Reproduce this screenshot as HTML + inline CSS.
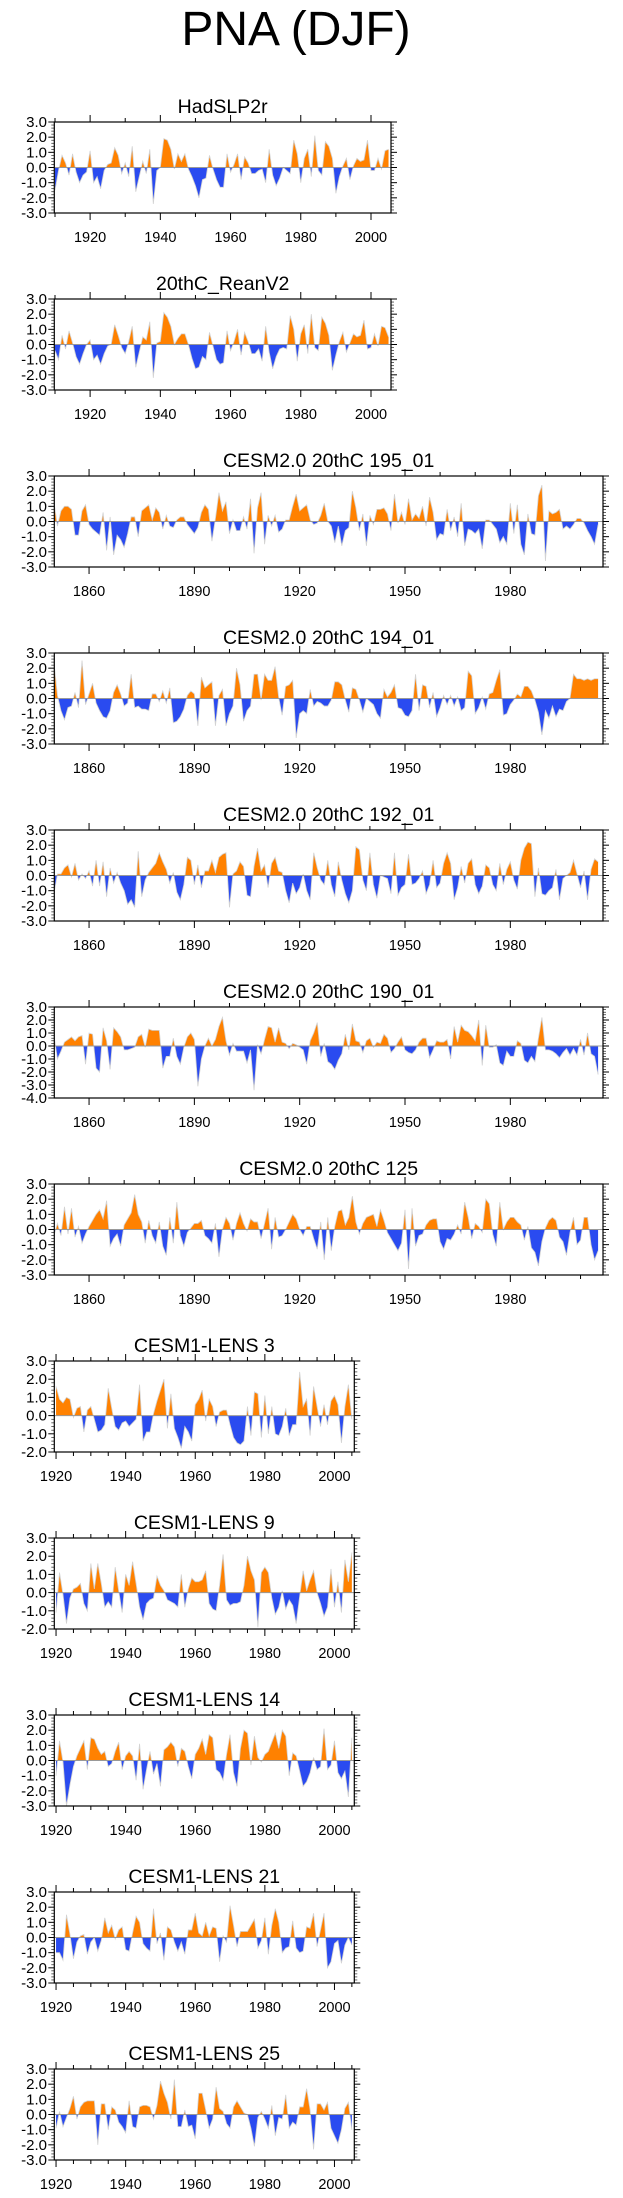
<!DOCTYPE html>
<html><head><meta charset="utf-8"><title>PNA (DJF)</title>
<style>
html,body{margin:0;padding:0;background:#fff;}
svg{display:block;font-family:"Liberation Sans",Arial,sans-serif;}
</style></head>
<body>
<svg id="chart" width="623" height="2198" viewBox="0 0 623 2198" xmlns="http://www.w3.org/2000/svg">
<text x="296" y="45" font-size="48" text-anchor="middle" fill="#000">PNA (DJF)</text>
</svg>
<script>
const hadslp2r=[-1.5,-0.2,0.8,0.3,-0.5,0.9,-0.3,-1.0,-0.5,-0.3,1.1,-1.0,-0.6,-1.4,-0.2,0.2,0.3,1.3,0.8,-0.4,0.3,-0.6,1.4,-1.6,-0.6,0.4,-0.4,1.2,-2.4,-0.2,0.0,1.9,1.8,1.2,-0.1,0.9,0.4,0.9,-0.1,-0.6,-1.2,-2.0,-0.8,-0.7,0.8,-0.1,-0.8,-1.3,-1.3,0.9,-0.3,0.2,0.9,-0.8,0.7,0.3,-0.4,-0.4,-0.2,-0.1,-1.0,1.2,-0.5,-1.2,-0.7,0.0,-0.2,-0.4,1.8,0.9,-1.0,0.6,1.2,-0.6,2.1,-0.2,-0.5,1.7,1.4,0.6,-1.7,-0.6,0.1,0.6,-0.8,0.1,0.6,0.4,0.5,1.8,-0.2,-0.2,0.6,-0.1,1.1,1.2];
const reanV2=[-0.4,-1.0,0.6,-0.3,0.9,0.1,-0.8,-1.3,-0.6,0.0,0.3,-1.0,-0.7,-1.3,-0.6,-0.1,0.0,1.3,0.6,-0.2,-0.6,0.2,1.2,-1.5,-0.5,0.5,0.3,1.5,-2.2,0.1,0.2,2.1,1.8,1.2,0.0,0.4,0.7,0.7,0.0,-0.9,-1.6,-1.5,-0.8,-1.0,0.8,-0.1,-1.0,-1.3,-1.2,0.9,-0.4,0.2,1.0,-0.7,0.8,0.2,-0.6,-0.6,-0.3,-1.1,1.2,-0.5,-1.6,-0.8,-0.3,-0.2,-0.3,1.9,1.0,-1.1,0.7,1.3,-0.6,2.0,-0.2,-0.4,1.8,1.4,0.6,-1.7,-0.7,0.2,0.8,-0.5,0.1,0.7,0.5,0.6,1.6,-0.3,-0.2,0.7,-0.1,1.2,1.1,0.5];
const c195=[1.3,-0.3,0.7,1.0,1.0,0.8,-0.9,-0.9,0.7,1.1,-0.2,-0.5,-0.7,-0.9,0.6,-1.9,0.3,-2.2,-0.9,-1.2,-1.7,-0.8,0.3,0.3,-1.0,0.7,0.9,1.1,0.1,0.9,0.6,-0.5,0.4,-0.3,-0.4,0.1,0.3,0.3,-0.2,-0.5,-0.8,-0.4,0.6,1.1,0.8,-1.3,0.2,1.9,0.7,1.3,-0.8,0.1,-0.6,-0.6,0.3,-0.5,1.5,-2.1,0.9,1.9,-1.5,0.4,-0.3,0.4,-0.7,-0.5,0.1,0.1,1.0,1.8,0.7,0.9,1.1,0.1,-0.2,-0.1,0.4,1.2,0.0,-0.3,-1.4,-0.3,-1.6,-0.6,-0.4,2.0,0.9,-0.6,0.5,-1.6,0.4,-0.2,0.8,0.8,0.9,0.5,-0.6,1.8,-0.1,0.6,-0.2,1.5,0.1,0.5,0.2,1.0,-0.3,1.6,0.6,-1.2,-0.8,-0.9,0.8,-0.6,0.3,-1.0,1.2,-1.6,-0.5,-0.6,-0.8,-0.5,-1.8,0.1,0.1,-0.2,-0.5,-1.4,-1.0,-1.5,1.2,-0.8,1.1,-1.5,-2.2,0.5,-0.8,-0.9,1.7,2.4,-2.6,0.7,0.5,0.6,0.8,-0.5,-0.3,-0.5,-0.2,0.2,0.2,-0.1,-0.6,-1.0,-1.5,-0.2];
const c194=[2.4,0.2,-0.8,-1.4,-0.6,-0.5,0.4,-0.6,2.5,-0.4,0.3,1.0,-0.3,-0.8,-1.2,-1.3,-0.8,0.4,0.9,0.3,-0.5,-0.3,1.6,-0.6,-0.5,-0.7,-0.7,-0.8,0.3,0.3,-0.2,0.5,-0.3,0.7,-1.6,-1.5,-1.2,-0.7,0.2,0.5,0.3,-1.8,1.4,0.7,0.9,1.1,-1.8,0.2,0.6,-1.8,-1.0,-0.5,2.0,0.9,-1.5,-0.8,-0.5,1.6,1.6,-0.1,1.6,1.2,1.2,2.1,0.1,-1.1,0.8,0.9,1.2,-2.6,-1.0,-0.8,-1.0,0.6,-0.5,-0.2,-0.3,-0.5,-0.5,-0.1,1.1,1.1,0.9,-0.1,-0.9,0.7,0.6,-0.1,-0.9,0.0,-0.2,-0.4,-1.0,-1.3,0.6,0.1,0.4,0.9,-0.6,-0.7,-1.1,-1.2,-0.8,1.6,-0.8,0.9,0.8,-0.6,0.4,-1.2,-0.6,0.2,-0.4,0.2,-0.5,0.1,-0.8,-0.6,1.8,1.5,-1.0,-0.6,0.1,-0.7,0.3,0.4,1.2,1.9,-1.1,-1.0,-0.4,-0.1,0.3,0.1,0.8,0.8,0.5,-0.1,-0.9,-2.4,-0.8,-1.3,-0.5,-1.2,-0.7,-0.8,-0.2,0.0,1.6,1.3,1.3,1.2,1.3,1.2,1.3,1.3];
const c192=[-1.2,0.1,0.1,0.5,0.7,-0.1,0.8,-0.3,0.1,-0.2,0.3,-0.7,1.0,-0.7,0.9,-1.4,0.5,-0.5,0.2,-0.5,-1.0,-1.9,-1.6,-2.1,1.6,-1.4,-0.3,0.2,0.5,0.8,1.5,0.9,0.4,-0.5,0.2,-1.1,-1.6,-0.6,1.2,1.0,-0.6,0.7,-0.8,0.3,0.3,1.0,0.2,1.2,1.4,1.5,-2.1,0.1,0.3,0.9,0.6,-1.3,-1.4,0.6,1.8,0.3,0.7,-0.8,0.8,1.2,0.3,0.2,-1.0,-1.8,-0.5,-1.2,-0.8,0.1,-1.0,-1.6,1.5,0.5,-0.3,-0.6,1.0,-0.6,-1.4,0.9,-0.3,-1.2,-1.8,-1.0,1.9,1.7,-0.3,-1.0,1.5,-0.6,-1.5,0.0,-0.1,-0.2,-1.2,1.5,-1.3,-0.8,-0.6,1.4,-0.6,-0.5,-0.2,0.3,-1.2,-0.6,1.0,-0.8,-0.5,0.8,1.5,0.8,-1.6,-0.8,0.6,-0.5,0.8,1.1,-0.6,-1.2,-0.7,0.7,0.5,-0.6,-1.0,0.8,-0.6,0.4,0.9,-0.3,-0.9,1.0,1.8,2.2,2.1,-1.4,0.5,-1.2,-1.3,-1.0,-0.8,0.4,-1.6,-0.2,0.0,0.2,1.0,0.1,-0.8,0.3,-1.6,0.4,1.1,0.9];
const c190=[0.8,-1.0,-0.4,0.3,0.5,0.7,0.4,0.7,0.8,-1.4,1.0,0.9,-1.7,-2.0,1.4,0.4,-1.8,1.4,1.1,0.7,-0.3,-0.3,-0.2,-0.1,0.7,0.9,-0.1,1.3,1.2,1.2,1.2,-1.7,-0.8,-0.8,0.6,-0.8,-1.4,-0.1,0.7,1.0,0.5,-3.1,-1.0,0.0,0.6,0.0,0.5,1.5,2.2,0.4,-0.7,0.2,-0.4,-0.4,-0.4,-1.3,-0.3,-3.4,0.1,-0.6,0.5,1.5,1.4,0.3,1.4,0.3,0.2,-0.2,0.2,0.1,-0.1,-0.3,-1.4,0.4,1.0,1.8,-0.8,0.2,-1.2,-1.4,-1.8,-1.1,-0.6,0.9,-0.3,1.7,0.4,0.3,-0.5,0.4,0.6,-0.1,0.3,0.2,0.9,0.6,-0.5,-0.2,0.3,0.7,-0.3,-0.5,-0.6,-0.3,0.3,0.6,0.6,-0.9,-0.3,0.4,0.3,0.3,0.5,-1.0,1.5,0.3,1.6,1.2,1.1,0.8,0.4,2.0,-1.5,1.6,-0.1,-0.1,0.1,-1.3,-1.5,-0.4,-0.8,-0.8,0.4,0.2,-1.1,-1.3,-0.8,-1.2,0.6,2.2,-0.3,-0.3,-0.4,-0.6,-0.9,-0.5,-0.2,-0.7,-0.2,-0.7,0.5,-0.7,1.0,-0.6,-0.8,-2.2];
const c125=[-0.4,0.4,-0.4,1.5,-0.3,1.4,-0.5,0.2,-0.9,-0.3,0.2,0.6,1.0,1.3,0.7,1.9,-1.1,-0.6,-0.3,-1.1,0.3,0.7,1.1,2.3,1.0,0.5,-0.9,0.6,-0.4,-0.9,0.5,-1.1,-1.7,0.8,-0.9,1.8,-0.4,-1.1,-0.2,0.1,0.4,0.4,0.6,-0.4,-0.6,-0.9,0.4,-1.8,0.0,0.8,0.4,-0.7,0.4,1.1,0.4,-0.1,0.7,0.5,0.5,-0.6,0.4,1.4,-1.3,0.8,-0.5,-0.4,0.0,0.5,1.0,0.7,0.0,-0.4,0.2,0.2,-0.6,-1.3,0.5,-2.0,0.8,-1.4,0.2,1.2,1.3,0.3,0.8,2.2,0.5,-0.3,0.4,0.8,0.9,1.0,0.2,1.3,0.6,-0.2,-0.6,-1.0,-1.4,-0.9,1.3,-2.6,1.4,-1.1,-0.4,-0.3,0.3,0.6,0.7,0.7,-0.8,-1.3,-0.6,-0.7,-0.3,0.3,-0.3,1.8,0.8,-0.6,0.4,0.2,-0.2,2.0,1.7,-0.3,-1.1,1.8,0.0,0.5,0.8,0.8,0.5,0.3,-0.7,0.2,-1.2,-1.5,-2.4,-0.8,0.1,0.6,0.8,0.6,-0.5,-0.8,-1.7,-0.2,0.8,-1.0,-0.7,0.8,0.8,-1.0,-2.0,-1.4];
const lens3=[1.6,0.9,0.7,1.0,0.9,-0.1,0.4,0.5,-0.9,0.3,0.5,-0.2,-0.9,-0.8,-0.5,1.5,0.4,-0.6,-0.8,-0.4,-0.3,-0.6,-0.4,-0.2,1.7,-1.4,-0.9,-0.9,0.1,0.8,1.4,2.0,-0.7,1.2,-0.7,-1.2,-1.8,-0.6,-0.9,-1.4,0.6,0.9,1.4,-0.3,0.9,0.5,-0.6,0.2,0.3,0.3,-0.5,-1.2,-1.5,-1.6,-1.4,0.5,-1.1,1.3,1.2,-1.2,1.1,-1.0,0.5,-1.0,-1.1,-0.6,0.4,-1.1,-0.5,-0.5,2.4,0.5,0.9,-1.1,1.6,0.5,-0.6,0.6,-0.5,0.8,1.1,0.6,-1.5,0.5,1.7,-0.2];
const lens9=[-1.1,1.1,-0.1,-1.7,-0.3,0.2,0.3,0.5,-0.6,-1.0,1.6,0.2,1.6,0.5,-0.8,-0.5,-0.8,1.4,0.1,-1.1,1.0,0.4,1.7,0.5,-0.8,-1.5,-0.6,-0.4,-0.3,0.9,0.4,0.1,-0.4,-0.5,-0.6,-0.8,1.0,-0.8,0.2,0.8,0.6,0.6,0.7,1.2,-0.6,-0.9,-1.0,0.4,2.1,-0.4,-0.7,-0.6,-0.6,-0.5,0.4,2.0,1.2,0.7,-1.9,1.1,1.4,1.1,-0.3,-1.2,-0.8,0.1,-0.9,-0.4,-0.7,-1.7,-0.2,1.2,0.1,0.7,1.2,0.0,-0.6,-1.3,-0.8,1.3,-0.8,0.6,-1.1,1.8,0.6,2.2];
const lens14=[-1.0,1.3,-0.1,-3.0,-1.6,-0.4,0.3,0.8,1.3,-0.6,1.5,1.4,0.8,0.4,0.6,-0.4,-0.2,0.6,1.2,-0.6,0.3,0.6,0.3,-1.3,1.1,-1.9,-0.6,0.6,-0.9,-0.2,-1.7,0.7,0.9,1.2,0.9,-0.4,0.8,0.6,-0.4,-1.2,0.4,0.8,1.4,0.4,1.7,1.5,-0.6,-0.8,-1.3,0.4,1.7,-0.8,-1.7,0.8,2.0,1.8,-0.3,1.6,0.2,-0.1,0.4,0.6,1.2,1.8,0.8,2.0,1.6,-1.0,0.5,0.3,-0.7,-1.7,-1.4,-0.8,0.2,-0.6,-0.4,2.1,-0.6,-0.3,1.3,-0.8,-1.2,-0.7,-2.4,1.5];
const lens21=[-1.0,-1.0,-1.5,1.5,0.2,-1.4,-0.3,0.1,0.2,-1.1,-0.3,0.0,-0.9,-0.2,1.3,0.3,0.8,-0.1,0.5,0.7,-0.8,-0.9,0.3,1.4,1.0,-0.4,-0.7,-0.9,1.9,-0.4,0.3,-1.5,0.7,0.5,-0.3,-0.9,-0.3,-1.1,0.5,0.5,1.6,0.3,0.1,1.0,0.1,0.7,0.6,-1.6,0.1,-0.3,2.1,0.8,-0.6,0.4,0.4,0.4,0.8,1.2,-0.7,-0.2,1.3,-1.1,0.8,1.9,1.0,-1.0,-0.7,-0.6,1.1,-0.7,-1.0,-0.9,0.7,0.6,1.6,-0.6,0.5,1.6,-2.0,-1.6,-0.4,-0.2,-1.7,-0.5,0.0,-0.5];
const lens25=[-0.9,0.2,-0.8,-0.2,0.4,1.2,-0.3,0.5,0.8,0.9,0.9,0.9,-2.0,0.7,0.7,-1.0,0.5,0.3,-0.5,-0.8,-1.2,0.9,-0.8,-0.9,0.5,0.6,0.6,0.5,-0.3,0.6,2.2,1.4,0.8,-0.3,2.3,-0.8,-0.8,0.3,-0.8,-0.7,-1.6,1.4,1.4,0.3,-0.9,-0.3,1.8,0.4,0.2,-0.6,-0.9,0.5,0.9,0.5,0.1,0.0,-0.9,-2.1,-0.2,0.2,-0.3,-0.9,0.6,-1.4,-0.2,-0.3,1.3,-0.9,-0.5,-0.7,0.5,0.5,1.7,0.3,-2.3,0.7,0.7,0.3,0.8,-0.9,-1.4,-1.9,-1.0,0.4,0.8,-1.0];

const panelTitles=["HadSLP2r","20thC_ReanV2","CESM2.0 20thC 195_01","CESM2.0 20thC 194_01","CESM2.0 20thC 192_01","CESM2.0 20thC 190_01","CESM2.0 20thC 125","CESM1-LENS 3","CESM1-LENS 9","CESM1-LENS 14","CESM1-LENS 21","CESM1-LENS 25"];
const panelSeries=[hadslp2r,reanV2,c195,c194,c192,c190,c125,lens3,lens9,lens14,lens21,lens25];
const panelStartYear=[1910,1910,1850,1850,1850,1850,1850,1920,1920,1920,1920,1920];
const panelYMin=[-3,-3,-3,-3,-3,-4,-3,-2,-2,-3,-3,-3];
const panelYMax=[3,3,3,3,3,3,3,3,3,3,3,3];
const panelKind=["obs","obs","wide","wide","wide","wide","wide","lens","lens","lens","lens","lens"];

const NS="http://www.w3.org/2000/svg";
const svg=document.getElementById("chart");
const kinds={
  obs:{x0:1909.8,x1:2005.7,right:391,major:20,minor:10,first:1920},
  wide:{x0:1850.1,x1:2006.4,right:603,major:30,minor:10,first:1860},
  lens:{x0:1919.5,x1:2005.7,right:354.3,major:20,minor:5,first:1920}
};
function mk(tag,attrs,parent){const e=document.createElementNS(NS,tag);for(const k in attrs)e.setAttribute(k,attrs[k]);(parent||svg).appendChild(e);return e;}

panelSeries.forEach((series,p)=>{
  const K=kinds[panelKind[p]];
  const L=54.3,R=K.right,T=122+177*p,B=T+91;
  const ymin=panelYMin[p],ymax=panelYMax[p];
  const xs=yr=>L+(yr-K.x0)/(K.x1-K.x0)*(R-L);
  const ys=v=>B-(v-ymin)/(ymax-ymin)*(B-T);
  const g=mk("g",{});
  
  
  const t=mk("text",{x:(L+R)/2,y:T-9,"font-size":"19.5","text-anchor":"middle",fill:"#000"},g);
  
  
  t.textContent=panelTitles[p];
  const cid="clip"+p;
  const defs=mk("defs",{},g);
  const y0=ys(0);
  const cpA=mk("clipPath",{id:cid+"a"},defs);mk("rect",{x:L,y:T,width:R-L,height:y0-T},cpA);
  const cpB=mk("clipPath",{id:cid+"b"},defs);mk("rect",{x:L,y:y0,width:R-L,height:B-y0},cpB);
  let line="";
  series.forEach((v,i)=>{line+=(i?"L":"M")+xs(panelStartYear[p]+i).toFixed(2)+","+ys(v).toFixed(2);});
  const xa=xs(panelStartYear[p]).toFixed(2),xb=xs(panelStartYear[p]+series.length-1).toFixed(2);
  const area="M"+xa+","+y0+line.replace(/^M/,"L")+"L"+xb+","+y0+"Z";
  const pos=mk("path",{d:area,fill:"#ff8100","clip-path":"url(#"+cid+"a)"},g);
  
  
  const neg=mk("path",{d:area,fill:"#2a4bf0","clip-path":"url(#"+cid+"b)"},g);
  
  
  const ln=mk("path",{d:line,fill:"none",stroke:"#d2d2d2","stroke-width":"0.8"},g);
  
  
  const zl=mk("line",{x1:L,x2:R,y1:y0,y2:y0,stroke:"#999","stroke-width":"1"},g);
  
  
  const box=mk("rect",{x:L,y:T,width:R-L,height:B-T,fill:"none",stroke:"#000","stroke-width":"1.2"},g);
  
  
  // x ticks
  const startT=Math.ceil(K.x0/K.minor)*K.minor;
  for(let yr=startT;yr<=K.x1;yr+=K.minor){
    const x=xs(yr),maj=((yr-K.first)%K.major===0);
    const len=maj?7:4;
    mk("line",{x1:x,x2:x,y1:B,y2:B+len,stroke:"#000","stroke-width":"1"},g);
    mk("line",{x1:x,x2:x,y1:T,y2:T-len,stroke:"#000","stroke-width":"1"},g);
    if(maj){
      const lb=mk("text",{x:x,y:B+29,"font-size":"14.5","text-anchor":"middle",fill:"#000"},g);
      
      
      lb.textContent=yr;
    }
  }
  // y ticks
  for(let k=Math.round(ymin*5);k<=Math.round(ymax*5);k++){
    const v=k/5,y=ys(v),maj=(k%5===0),len=maj?6:3;
    mk("line",{x1:L,x2:L-len,y1:y,y2:y,stroke:"#000","stroke-width":maj?"1":"0.6"},g);
    mk("line",{x1:R,x2:R+len,y1:y,y2:y,stroke:"#000","stroke-width":maj?"1":"0.6"},g);
    if(maj){
      const lb=mk("text",{x:47,y:y+5,"font-size":"15","text-anchor":"end",fill:"#000"},g);
      
      
      lb.textContent=v.toFixed(1);
    }
  }
});
</script>
</body></html>
